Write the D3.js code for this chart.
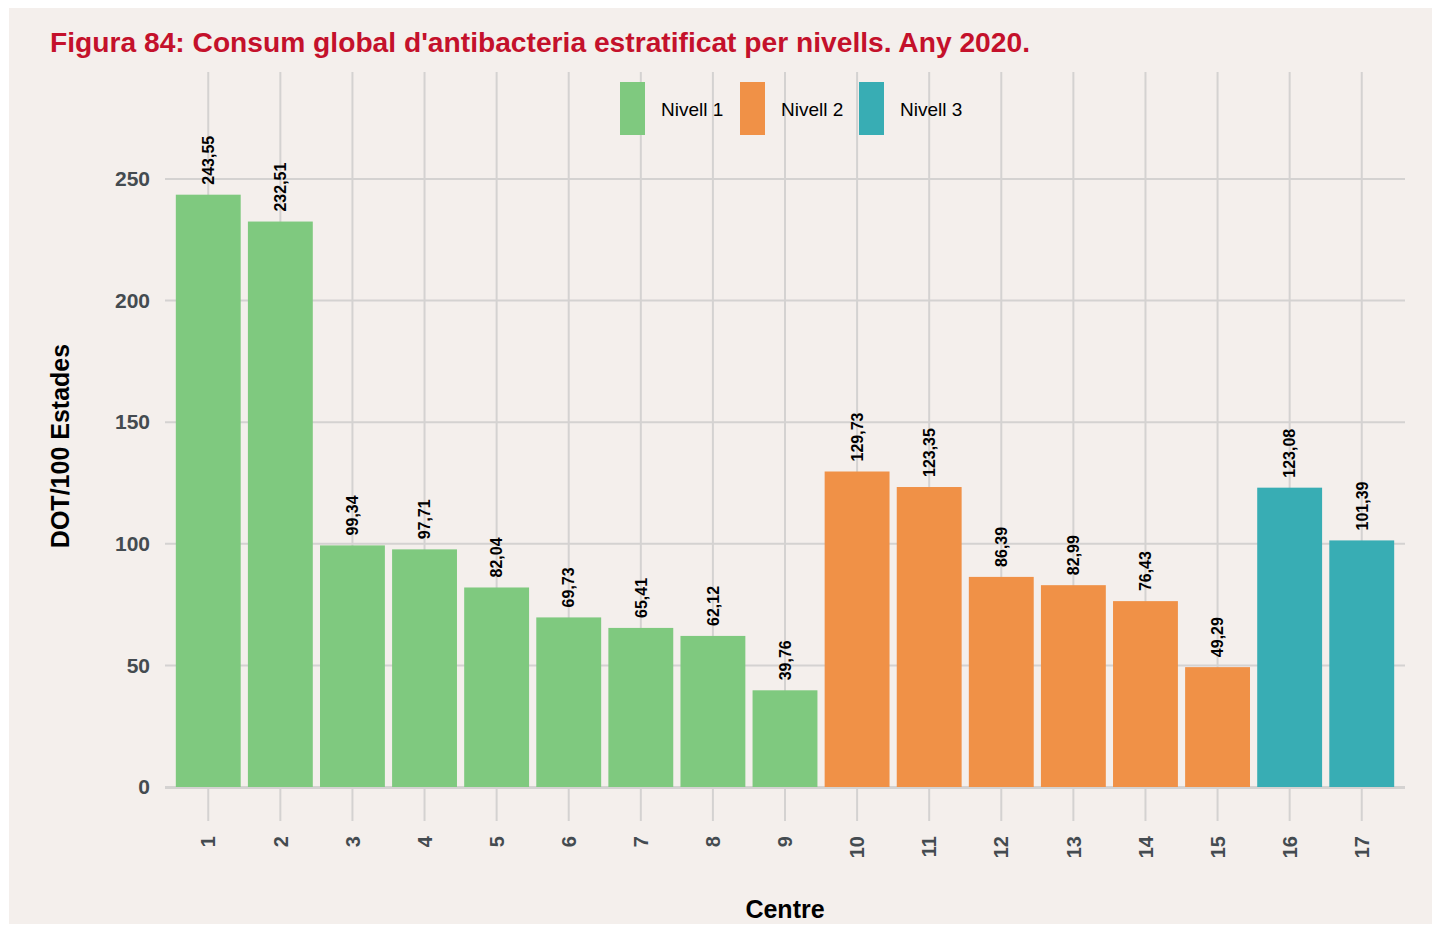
<!DOCTYPE html>
<html><head><meta charset="utf-8">
<script src="https://cdn.jsdelivr.net/npm/d3@7"></script>
<style>body{margin:0;background:#fff;font-family:"Liberation Sans",Arial,sans-serif}</style>
</head><body>
<svg id="c" width="1434" height="926"></svg>
<script>
const centres = ["1","2","3","4","5","6","7","8","9","10","11","12","13","14","15","16","17"];
const values = [243.55,232.51,99.34,97.71,82.04,69.73,65.41,62.12,39.76,129.73,123.35,86.39,82.99,76.43,49.29,123.08,101.39];
const levels = ["Nivell 1","Nivell 1","Nivell 1","Nivell 1","Nivell 1","Nivell 1","Nivell 1","Nivell 1","Nivell 1","Nivell 2","Nivell 2","Nivell 2","Nivell 2","Nivell 2","Nivell 2","Nivell 3","Nivell 3"];
const levelNames = ["Nivell 1","Nivell 2","Nivell 3"];
const levelColors = ["#7fc97f","#f09147","#38adb4"];
const yTicks = [0,50,100,150,200,250];
const title = "Figura 84: Consum global d'antibacteria estratificat per nivells. Any 2020.";

const svg = d3.select("#c");
svg.append("rect").attr("x",9).attr("y",8).attr("width",1423).attr("height",916).attr("fill","#f4efec");

const x = d3.scaleBand().domain(centres).range([165,1405]).paddingInner(0.1).paddingOuter(0.15);
const y = d3.scaleLinear().domain([0,294]).range([787,72]);
const color = d3.scaleOrdinal().domain(levelNames).range(levelColors);
const cx = d => x(d)+x.bandwidth()/2;
const grid = "#d4d2d1";

// grid
svg.append("g").selectAll("line").data(yTicks).join("line")
  .attr("x1",165).attr("x2",1405).attr("y1",d=>y(d)).attr("y2",d=>y(d))
  .attr("stroke",grid).attr("stroke-width",2);
svg.append("g").selectAll("line").data(centres).join("line")
  .attr("x1",cx).attr("x2",cx).attr("y1",72).attr("y2",787)
  .attr("stroke",grid).attr("stroke-width",2);

// bars
svg.append("g").selectAll("rect").data(centres).join("rect")
  .attr("x",d=>x(d)).attr("width",x.bandwidth())
  .attr("y",(d,i)=>y(values[i])).attr("height",(d,i)=>y(0)-y(values[i]))
  .attr("fill",(d,i)=>color(levels[i]));

// axis line at zero
svg.append("line").attr("x1",165).attr("x2",1405).attr("y1",y(0)+1).attr("y2",y(0)+1).attr("stroke",grid).attr("stroke-width",2);

// value labels
svg.append("g").selectAll("text").data(centres).join("text")
  .attr("transform",(d,i)=>`translate(${cx(d)},${y(values[i])-10}) rotate(-90)`)
  .attr("dy","0.36em").attr("text-anchor","start")
  .attr("font-size",16).attr("font-weight","bold").attr("fill","#000")
  .text((d,i)=>d3.format(".2f")(values[i]).replace(".",","));

// x axis
const xa = svg.append("g").attr("transform",`translate(0,${y(0)+1})`)
  .call(d3.axisBottom(x).tickSize(33).tickPadding(0));
xa.select(".domain").remove();
xa.selectAll(".tick line").attr("stroke",grid).attr("stroke-width",2);
xa.selectAll(".tick text").attr("transform","translate(0,48) rotate(-90)")
  .attr("text-anchor","end").attr("dy","0.36em").attr("y",0)
  .attr("font-size",20).attr("font-weight","bold").attr("fill","#444b50")
  .attr("font-family","Liberation Sans, Arial, sans-serif");

// y axis
const ya = svg.append("g").attr("transform","translate(165,0)")
  .call(d3.axisLeft(y).tickValues(yTicks).tickSize(0).tickPadding(15).tickFormat(d3.format("d")));
ya.select(".domain").remove();
ya.selectAll(".tick text").attr("font-size",21).attr("font-weight","bold").attr("fill","#444b50")
  .attr("font-family","Liberation Sans, Arial, sans-serif");

// titles
svg.append("text").attr("x",50).attr("y",52).attr("font-size",28.2).attr("font-weight","bold")
  .attr("fill","#c4112b").text(title);
svg.append("text").attr("x",785).attr("y",918).attr("text-anchor","middle").attr("font-size",25)
  .attr("font-weight","bold").attr("fill","#000").text("Centre");
svg.append("text").attr("transform","translate(69,446) rotate(-90)").attr("text-anchor","middle")
  .attr("font-size",25).attr("font-weight","bold").attr("fill","#000").text("DOT/100 Estades");

// legend
const legX = [620,740,859];
const lg = svg.append("g").selectAll("g").data(levelNames).join("g")
  .attr("transform",(d,i)=>`translate(${legX[i]},82)`);
lg.append("rect").attr("width",25).attr("height",53).attr("fill",d=>color(d));
lg.append("text").attr("x",41).attr("y",27).attr("dy","0.36em").attr("font-size",19).attr("fill","#000").text(d=>d);
</script>
</body></html>
